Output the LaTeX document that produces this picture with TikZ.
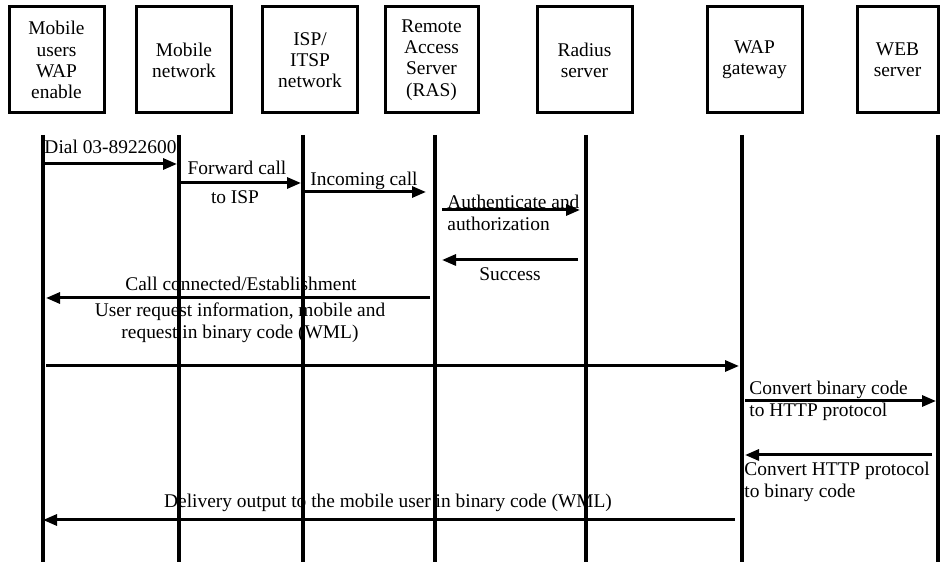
\documentclass[tikz,border=0pt]{standalone}
\usepackage{fontspec}
\setmainfont{Liberation Serif}
\usetikzlibrary{arrows.meta}

\begin{document}
\begin{tikzpicture}[x=0.5pt,y=-0.5pt]
\tikzset{
  actorbox/.style={rectangle,draw=black,line width=1.5pt,minimum width=47.5pt,minimum height=53pt,inner sep=1pt,align=center,font=\fontsize{9.7}{10.6}\selectfont},
  lifeline/.style={draw=black,line width=1.6pt},
  msg/.style={draw=black,line width=1.5pt,-{Triangle[length=7pt,width=5.5pt]}},
  msglabel/.style={inner sep=0pt,font=\fontsize{9.7}{11}\selectfont}
}
\useasboundingbox (0,0) rectangle (941,565);
% actors
\node[actorbox] (n_mob) at (56.5,60) {Mobile\\users\\WAP\\enable};
\node[actorbox] (n_net) at (184,60) {Mobile\\network};
\node[actorbox] (n_isp) at (310,60) {ISP/\\ITSP\\network};
\node[actorbox,minimum width=46.5pt] (n_ras) at (431.5,60) {Remote\\Access\\Server\\(RAS)};
\node[actorbox] (n_rad) at (584.5,60) {Radius\\server};
\node[actorbox] (n_wap) at (754.5,60) {WAP\\gateway};
\node[actorbox,minimum width=40.5pt] (n_web) at (897.5,60) {WEB\\server};
% lifelines
\coordinate (mobT) at (43,135);  \coordinate (mobB) at (43,562);
\coordinate (netT) at (179,135); \coordinate (netB) at (179,562);
\coordinate (ispT) at (303,135); \coordinate (ispB) at (303,562);
\coordinate (rasT) at (435,135); \coordinate (rasB) at (435,562);
\coordinate (radT) at (586,135); \coordinate (radB) at (586,562);
\coordinate (wapT) at (742,135); \coordinate (wapB) at (742,562);
\coordinate (webT) at (938,135); \coordinate (webB) at (938,562);
\draw[lifeline] (mobT) -- (mobB);
\draw[lifeline] (netT) -- (netB);
\draw[lifeline] (ispT) -- (ispB);
\draw[lifeline] (rasT) -- (rasB);
\draw[lifeline] (radT) -- (radB);
\draw[lifeline] (wapT) -- (wapB);
\draw[lifeline] (webT) -- (webB);
% messages
\coordinate (dialS) at (45,164);  \coordinate (dialE) at (177,164);
\draw[msg] (dialS) -- (dialE);
\node[msglabel] (l_dial) at (110.5,147) {Dial 03-8922600};
\coordinate (fwdS) at (181,183);  \coordinate (fwdE) at (301,183);
\draw[msg] (fwdS) -- (fwdE);
\node[msglabel] (l_fwd) at (237,168) {Forward call};
\node[msglabel] (l_fwd2) at (235,197) {to ISP};
\coordinate (incS) at (305,192);  \coordinate (incE) at (426,192);
\draw[msg] (incS) -- (incE);
\node[msglabel] (l_inc) at (364,181) {Incoming call};
\coordinate (authS) at (442,210); \coordinate (authE) at (580,210);
\draw[msg] (authS) -- (authE);
\node[msglabel,anchor=west,align=left] (l_auth) at (447,213) {Authenticate and\\authorization};
\coordinate (succS) at (578,260); \coordinate (succE) at (442,260);
\draw[msg] (succS) -- (succE);
\node[msglabel] (l_succ) at (510,274) {Success};
\coordinate (connS) at (430,298); \coordinate (connE) at (46,298);
\draw[msg] (connS) -- (connE);
\node[msglabel] (l_conn) at (241,284) {Call connected/Establishment};
\node[msglabel,align=center] (l_req) at (240,323) {User request information, mobile and\\request in binary code (WML)};
\coordinate (reqS) at (46,366);   \coordinate (reqE) at (739,366);
\draw[msg] (reqS) -- (reqE);
\coordinate (httpS) at (745,401); \coordinate (httpE) at (936,401);
\draw[msg] (httpS) -- (httpE);
\node[msglabel,anchor=west,align=left] (l_http) at (749,401) {Convert binary code\\to HTTP protocol};
\coordinate (binS) at (932,455);  \coordinate (binE) at (745,455);
\draw[msg] (binS) -- (binE);
\node[msglabel,anchor=west,align=left] (l_bin) at (744,482) {Convert HTTP protocol\\to binary code};
\coordinate (delS) at (735,520);  \coordinate (delE) at (43,520);
\draw[msg] (delS) -- (delE);
\node[msglabel] (l_del) at (388,503) {Delivery output to the mobile user in binary code (WML)};
\end{tikzpicture}
\end{document}
